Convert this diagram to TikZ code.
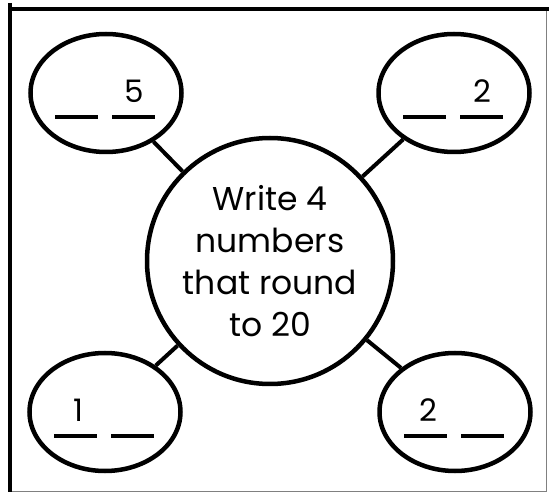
\documentclass[tikz,border=0pt]{standalone}
\usepackage{fontspec}
\setmainfont{Poppins}
\usetikzlibrary{shapes.geometric}
\begin{document}
\begin{tikzpicture}[x=1pt,y=-1pt,
  bubble/.style={draw=black,line width=4.5pt,ellipse,minimum width=151pt,minimum height=118pt,inner sep=0pt},
  hub/.style={draw=black,line width=4.5pt,circle,minimum size=246pt,inner sep=0pt,align=center,
    font=\fontsize{33}{42}\selectfont},
  spoke/.style={line width=4pt},
  blank/.style={line width=3.5pt},
  digit/.style={anchor=base,inner sep=0pt,font=\fontsize{31}{31}\selectfont}]
\useasboundingbox (0,0) rectangle (550,492);
% frame
\draw[line width=4pt] (10,3) -- (10,492);
\draw[line width=4pt] (8,9) -- (549,9);
\draw[gray,line width=1pt] (546,11) -- (546,491) -- (12,491);
% hub and bubbles
\node[hub] (c) at (270,261) {Write 4\\numbers\\that round\\to 20};
\node[bubble] (tl) at (106,93) {};
\node[bubble] (tr) at (454,93) {};
\node[bubble] (bl) at (105,412) {};
\node[bubble] (br) at (455,412) {};
\foreach \b in {tl,tr,bl,br}{
  \draw[spoke] (\b) -- (c);
  \draw[blank] ([xshift=-51pt,yshift=-24pt]\b.center) -- ([xshift=-8pt,yshift=-24pt]\b.center);
  \draw[blank] ([xshift=6pt,yshift=-24pt]\b.center) -- ([xshift=49pt,yshift=-24pt]\b.center);
}
\node[digit] (d1) at ([xshift=28pt,yshift=-10pt]tl.center) {5};
\node[digit] (d2) at ([xshift=28pt,yshift=-10pt]tr.center) {2};
\node[digit] (d3) at ([xshift=-27pt,yshift=-10pt]bl.center) {1};
\node[digit] (d4) at ([xshift=-27pt,yshift=-10pt]br.center) {2};
\end{tikzpicture}
\end{document}
